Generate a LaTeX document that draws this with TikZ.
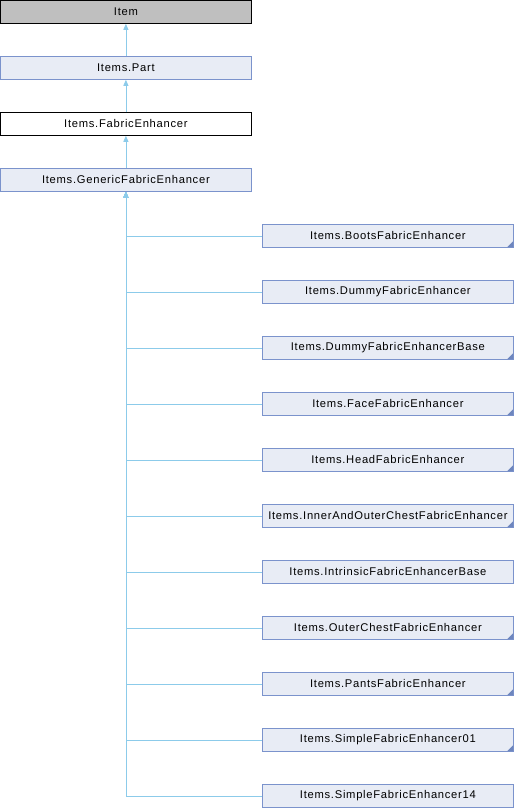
\documentclass[tikz,border=0pt]{standalone}
\usepackage{fontspec}
\setmainfont{Liberation Sans}
\newfontfamily\boxfont[LetterSpace=6.5]{Liberation Sans}
\usetikzlibrary{arrows.meta}
\definecolor{boxfill}{HTML}{E8ECF5}
\definecolor{boxline}{HTML}{7B93CC}
\definecolor{edgecol}{HTML}{8CCBEA}
\definecolor{rootfill}{HTML}{BFBFBF}
\definecolor{tricol}{HTML}{6E86BE}
\tikzset{
  cls/.style={draw=boxline, fill=boxfill, line width=0.8pt, minimum width=251pt, minimum height=23pt, inner sep=0pt, anchor=north west, font=\boxfont\fontsize{11.2}{13}\selectfont},
  rootcls/.style={cls, draw=black, fill=rootfill},
  plaincls/.style={cls, draw=black, fill=white},
  edge/.style={draw=edgecol, line width=0.8pt, -{Triangle[width=5pt,length=6pt,fill=edgecol]}},
  truncmark/.style={fill=tricol}
}
\begin{document}
\begin{tikzpicture}[x=1pt,y=-1pt]
\useasboundingbox (0,0) rectangle (514,808);
\node[rootcls] (item) at (0,0) {Item};
\node[cls] (part) at (0,56) {Items.Part};
\node[plaincls] (fab) at (0,112) {Items.FabricEnhancer};
\node[cls] (gen) at (0,168) {Items.GenericFabricEnhancer};
\node[cls] (c1) at (262,224) {Items.BootsFabricEnhancer};
\node[cls] (c2) at (262,280) {Items.DummyFabricEnhancer};
\node[cls] (c3) at (262,336) {Items.DummyFabricEnhancerBase};
\node[cls] (c4) at (262,392) {Items.FaceFabricEnhancer};
\node[cls] (c5) at (262,448) {Items.HeadFabricEnhancer};
\node[cls] (c6) at (262,504) {Items.InnerAndOuterChestFabricEnhancer};
\node[cls] (c7) at (262,560) {Items.IntrinsicFabricEnhancerBase};
\node[cls] (c8) at (262,616) {Items.OuterChestFabricEnhancer};
\node[cls] (c9) at (262,672) {Items.PantsFabricEnhancer};
\node[cls] (c10) at (262,728) {Items.SimpleFabricEnhancer01};
\node[cls] (c11) at (262,784) {Items.SimpleFabricEnhancer14};
\foreach \c in {c1,c3,c4,c5,c6,c8,c9,c10}{
  \fill[truncmark] ([xshift=-0.6pt,yshift=0.6pt]\c.south east) -- ++(0,-6) -- ++(-6,6) -- cycle;
}
\draw[edge] (part) -- (item);
\draw[edge] (fab) -- (part);
\draw[edge] (gen) -- (fab);
\foreach \c in {c1,c2,c3,c4,c5,c6,c7,c8,c9,c10,c11}{
  \draw[edge] (\c.west) -| (gen.south);
}
\end{tikzpicture}
\end{document}
